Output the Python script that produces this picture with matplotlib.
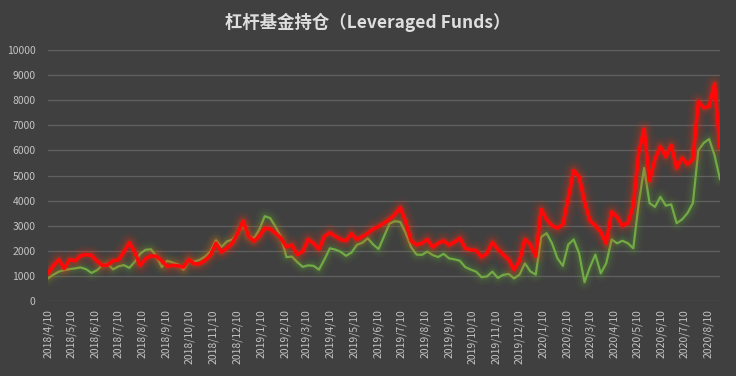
import matplotlib
matplotlib.use("Agg")
import matplotlib.pyplot as plt
import pandas as pd

plt.rcParams['font.family'] = ['Noto Sans CJK SC', 'DejaVu Sans']

# weekly observation dates (Tuesdays)
start_date = "2018-04-10"
n_weeks = 125

long_pos = [
    1100, 1400, 1650, 1300, 1650, 1600, 1800, 1850, 1820, 1600,
    1420, 1430, 1600, 1640, 1950, 2330, 1950, 1420, 1680, 1800,
    1780, 1600, 1380, 1420, 1400, 1350, 1650, 1480, 1480, 1620,
    1830, 2300, 1950, 2100, 2300, 2700, 3180, 2580, 2380, 2580,
    2900, 2870, 2700, 2500, 2150, 2230, 1850, 1980, 2450, 2300,
    2070, 2570, 2720, 2580, 2450, 2400, 2680, 2450, 2560, 2700,
    2870, 2970, 3100, 3250, 3450, 3720, 3150, 2400, 2240, 2300,
    2450, 2150, 2300, 2400, 2230, 2350, 2500, 2100, 2040, 2010,
    1750, 1900, 2330, 2060, 1850, 1650, 1250, 1600, 2450, 2250,
    1800, 3650, 3250, 3000, 2900, 3050, 4100, 5200, 4950, 3950,
    3200, 3000, 2750, 2300, 3550, 3350, 3000, 3100, 3800, 5900,
    6850, 4800, 5650, 6150, 5750, 6200, 5300, 5700, 5450, 5650,
    7950, 7700, 7750, 8650, 6100,
]

short_pos = [
    900, 1050, 1170, 1230, 1270, 1300, 1340, 1270, 1120, 1220,
    1420, 1480, 1260, 1380, 1430, 1320, 1560, 1880, 2040, 2060,
    1780, 1350, 1600, 1530, 1450, 1250, 1600, 1570, 1640, 1770,
    1980, 2420, 2150, 2370, 2450, 2700, 3000, 2580, 2500, 2850,
    3380, 3300, 2950, 2550, 1750, 1770, 1550, 1360, 1420, 1400,
    1250, 1650, 2100, 2050, 1960, 1800, 1930, 2240, 2320, 2500,
    2250, 2070, 2570, 3080, 3180, 3150, 2700, 2150, 1850, 1840,
    1970, 1830, 1750, 1880, 1700, 1660, 1600, 1350, 1250, 1170,
    950, 980, 1170, 920, 1040, 1080, 900, 1050, 1500, 1180,
    1050, 2550, 2700, 2300, 1700, 1400, 2250, 2450, 1900, 750,
    1350, 1850, 1100, 1500, 2450, 2300, 2400, 2300, 2100, 3900,
    5300, 3900, 3750, 4150, 3800, 3850, 3100, 3250, 3500, 3900,
    6000, 6300, 6450, 5800, 4850,
]

tick_labels = [
    "2018/4/10", "2018/5/10", "2018/6/10", "2018/7/10", "2018/8/10",
    "2018/9/10", "2018/10/10", "2018/11/10", "2018/12/10", "2019/1/10",
    "2019/2/10", "2019/3/10", "2019/4/10", "2019/5/10", "2019/6/10",
    "2019/7/10", "2019/8/10", "2019/9/10", "2019/10/10", "2019/11/10",
    "2019/12/10", "2020/1/10", "2020/2/10", "2020/3/10", "2020/4/10",
    "2020/5/10", "2020/6/10", "2020/7/10", "2020/8/10",
]

y_ticks = list(range(0, 10001, 1000))

title = "杠杆基金持仓（Leveraged Funds）"

dates = pd.date_range(start_date, periods=n_weeks, freq="7D")
tick_dates = pd.to_datetime(tick_labels, format="%Y/%m/%d")

BG = "#404040"
TXT = "#c4c4c4"

fig = plt.figure(figsize=(7.36, 3.76), dpi=100, facecolor=BG)
ax = fig.add_axes([48/736, 1-301/376, (720-48)/736, (301-50)/376])
ax.set_facecolor(BG)


def glow_line(x, y, color, glow_color, lw, z, widths, alphas):
    for w, a in zip(widths, alphas):
        ax.plot(x, y, color=glow_color, lw=w, alpha=a, zorder=z,
                solid_joinstyle="round", solid_capstyle="round")
    ax.plot(x, y, color=color, lw=lw, zorder=z + 0.5,
            solid_joinstyle="round", solid_capstyle="round")


glow_line(dates, short_pos, "#72aa45", "#5e9a34", 1.6, 3,
          [12, 9, 6.5, 4.5], [0.05, 0.06, 0.08, 0.12])
glow_line(dates, long_pos, "#ff0808", "#ff3010", 2.6, 5,
          [14, 10.5, 7.5, 5], [0.05, 0.07, 0.10, 0.16])

ax.set_ylim(0, 10000)
ax.set_xlim(dates[0], dates[-1])
ax.set_yticks(y_ticks)
ax.set_yticklabels([str(v) for v in y_ticks])
ax.set_xticks(tick_dates)
ax.set_xticklabels(tick_labels, rotation=90)

ax.grid(axis="y", color="#606060", lw=0.9, zorder=0)
ax.grid(axis="x", visible=False)
for s in ax.spines.values():
    s.set_visible(False)
ax.tick_params(axis="both", length=0, colors=TXT, labelsize=7.5)
ax.tick_params(axis="y", pad=9)
ax.tick_params(axis="x", pad=6)

fig.text(0.5, 1-22/376, title, ha="center", va="center", color="#dedede",
         fontsize=12.5, fontweight="bold")

fig.savefig("out.png", dpi=100, facecolor=BG)
